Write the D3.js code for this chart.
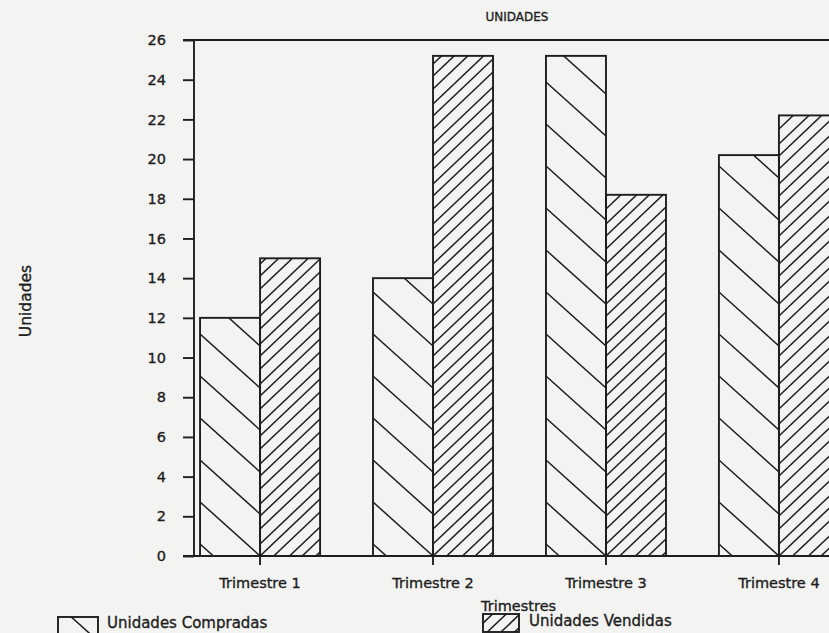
<!DOCTYPE html>
<html>
<head>
<meta charset="utf-8">
<script src="https://cdn.jsdelivr.net/npm/d3@7"></script>
<style>
  html, body { margin: 0; padding: 0; background: #f3f3f1; }
  svg { display: block; }
  text { font-family: "DejaVu Sans", sans-serif; fill: #1e1e1e; stroke: #1e1e1e; stroke-width: 0.35px; }
</style>
</head>
<body>
<svg id="chart" width="829" height="633"></svg>
<script>
// Units bought and sold per quarter
const quarters = ["Trimestre 1", "Trimestre 2", "Trimestre 3", "Trimestre 4"];
const compradas = [12, 14, 25.2, 20.2];
const vendidas = [15, 25.2, 18.2, 22.2];
const seriesKeys = ["compradas", "vendidas"];
const seriesLabels = ["Unidades Compradas", "Unidades Vendidas"];
const yTickValues = [0, 2, 4, 6, 8, 10, 12, 14, 16, 18, 20, 22, 24, 26];

const W = 829, H = 633;
const ink = "#1e1e1e";
const svg = d3.select("#chart");

const y = d3.scaleLinear().domain([0, 26]).range([556, 40]);
const x0 = d3.scaleBand().domain(quarters).range([194, 845])
  .paddingInner(0.306).paddingOuter(0.035);
const x1 = d3.scaleBand().domain(seriesKeys).range([0, x0.bandwidth()]);

// Hatch styles: "\" for bought, "/" for sold; both meet at the group centre
const hatchStyle = {
  compradas: { dir: 1, slope: 0.9, period: 42, offsets: [0] },
  vendidas: { dir: -1, slope: 0.95, period: 40, offsets: [0, 12, 27] }
};

const defs = svg.append("defs");
let clipId = 0;

function hatchRect(parent, r, ax, ay, style) {
  const id = "clip" + (clipId++);
  defs.append("clipPath").attr("id", id)
    .append("rect").attr("x", r.x).attr("y", r.y).attr("width", r.w).attr("height", r.h);
  const segs = [];
  for (let k = -60; k <= 60; k++) {
    style.offsets.forEach(off => {
      const c = ay - k * style.period - off;
      const ya = c + style.dir * style.slope * (r.x - ax);
      const yb = c + style.dir * style.slope * (r.x + r.w - ax);
      const lo = Math.min(ya, yb), hi = Math.max(ya, yb);
      if (hi < r.y || lo > r.y + r.h) return;
      segs.push([r.x, ya, r.x + r.w, yb]);
    });
  }
  parent.append("g").attr("clip-path", `url(#${id})`)
    .selectAll("line").data(segs).join("line")
    .attr("x1", d => d[0]).attr("y1", d => d[1])
    .attr("x2", d => d[2]).attr("y2", d => d[3])
    .attr("stroke", ink).attr("stroke-width", 1.5);
  parent.append("rect")
    .attr("x", r.x).attr("y", r.y).attr("width", r.w).attr("height", r.h)
    .attr("fill", "none").attr("stroke", ink).attr("stroke-width", 1.9);
}

// Bars
const rows = quarters.map((q, i) => ({ q, compradas: compradas[i], vendidas: vendidas[i] }));
const barsG = svg.append("g");
rows.forEach(row => {
  const cx = x0(row.q) + x0.bandwidth() / 2;
  seriesKeys.forEach(key => {
    const v = row[key];
    const r = { x: x0(row.q) + x1(key), y: y(v), w: x1.bandwidth(), h: y(0) - y(v) };
    hatchRect(barsG, r, cx, y(0), hatchStyle[key]);
  });
});

// Y axis
const yAxis = d3.axisLeft(y).tickValues(yTickValues).tickSize(11).tickPadding(17);
const yg = svg.append("g").attr("transform", "translate(194,0)").call(yAxis);
yg.select(".domain").remove();
yg.selectAll(".tick line").attr("stroke", ink).attr("stroke-width", 1.9);
yg.selectAll(".tick text").attr("font-size", 14.5).attr("fill", ink)
  .attr("font-family", "DejaVu Sans, sans-serif");
svg.append("line").attr("x1", 194).attr("x2", 194).attr("y1", y(26)).attr("y2", y(0))
  .attr("stroke", ink).attr("stroke-width", 1.9);

// Frame top and baseline
svg.append("line").attr("x1", 183).attr("x2", W).attr("y1", y(26)).attr("y2", y(26))
  .attr("stroke", ink).attr("stroke-width", 1.9);
svg.append("line").attr("x1", 183).attr("x2", W).attr("y1", y(0)).attr("y2", y(0))
  .attr("stroke", ink).attr("stroke-width", 1.9);

// X axis
const xAxis = d3.axisBottom(x0).tickSize(9).tickPadding(8);
const xg = svg.append("g").attr("transform", `translate(0,${y(0)})`).call(xAxis);
xg.select(".domain").remove();
xg.selectAll(".tick line").attr("stroke", ink).attr("stroke-width", 1.9);
xg.selectAll(".tick text").attr("font-size", 14.5).attr("fill", ink)
  .attr("font-family", "DejaVu Sans, sans-serif")
  .attr("dy", null).attr("y", 32);

// Titles
svg.append("text").attr("x", 517).attr("y", 21).attr("text-anchor", "middle")
  .attr("font-size", 12).text("UNIDADES");
svg.append("text").attr("transform", "translate(31,301) rotate(-90)")
  .attr("text-anchor", "middle").attr("font-size", 15.5).text("Unidades");
svg.append("text").attr("x", 481).attr("y", 611).attr("font-size", 14.5).text("Trimestres");

// Legend
const legendItems = [
  { key: "compradas", label: seriesLabels[0], box: { x: 58, y: 617, w: 40, h: 18 }, tx: 107, ty: 628 },
  { key: "vendidas", label: seriesLabels[1], box: { x: 483, y: 614, w: 36, h: 18 }, tx: 529, ty: 626 }
];
const legG = svg.append("g");
legendItems.forEach(item => {
  const b = item.box;
  hatchRect(legG, b, b.x + b.w / 2, b.y + b.h, item.key === "compradas"
    ? { dir: 1, slope: 0.9, period: 42, offsets: [12] }
    : { dir: -1, slope: 0.95, period: 13, offsets: [0] });
  legG.append("text").attr("x", item.tx).attr("y", item.ty)
    .attr("font-size", 15).text(item.label);
});
</script>
</body>
</html>
